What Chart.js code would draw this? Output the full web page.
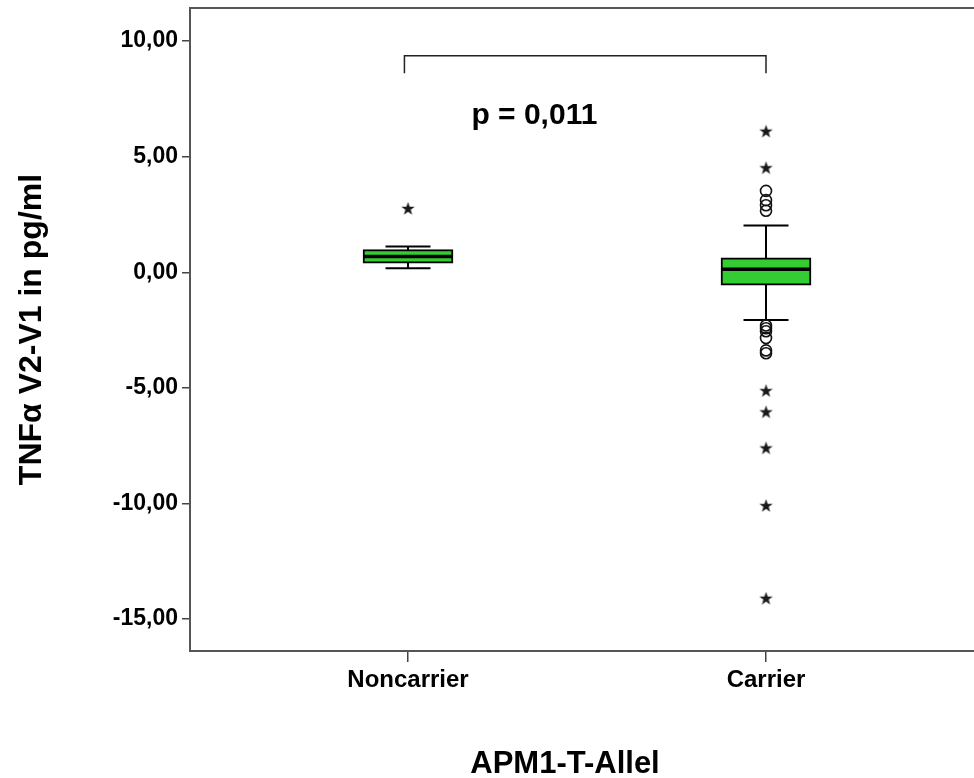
<!DOCTYPE html>
<html>
<head>
<meta charset="utf-8">
<script src="https://cdn.jsdelivr.net/npm/chart.js@4.4.0/dist/chart.umd.min.js"></script>
<style>
  html, body { margin: 0; padding: 0; background: #fff; overflow: hidden; }
  #wrap { width: 974px; height: 778px; }
  canvas { display: block; }
</style>
</head>
<body>
<div id="wrap"><canvas id="c" width="974" height="778"></canvas></div>
<script>
// ---- data ----
const categories = ['Noncarrier', 'Carrier'];
const whiskerLow  = [0.17, -2.06];
const q1          = [0.39, -0.56];
const median      = [0.68,  0.13];
const q3          = [0.98,  0.62];
const whiskerHigh = [1.12,  2.02];
// mild outliers (open circles), per category
const outliersCircle = [
  [],
  [3.52, 3.12, 2.90, 2.66, -2.30, -2.42, -2.55, -2.84, -3.38, -3.50]
];
// extreme outliers (stars), per category
const outliersStar = [
  [2.76],
  [6.10, 4.52, -5.12, -6.04, -7.60, -10.09, -14.10]
];
const yTicks = [-15, -10, -5, 0, 5, 10];
const pText = 'p = 0,011';
const xTitle = 'APM1-T-Allel';
const yTitle = 'TNFα V2-V1 in pg/ml';

const FONT = '"Liberation Sans", Arial, Helvetica, sans-serif';

// star marker image
function makeStar(size) {
  const cv = document.createElement('canvas');
  cv.width = size; cv.height = size;
  const g = cv.getContext('2d');
  const cx = size / 2, cy = size / 2 + 0.5, R = size / 2 - 0.5, r = R * 0.4;
  g.beginPath();
  for (let i = 0; i < 10; i++) {
    const a = -Math.PI / 2 + i * Math.PI / 5;
    const rr = i % 2 === 0 ? R : r;
    const px = cx + rr * Math.cos(a), py = cy + rr * Math.sin(a);
    if (i === 0) g.moveTo(px, py); else g.lineTo(px, py);
  }
  g.closePath();
  g.fillStyle = '#1a1a1a';
  g.fill();
  return cv;
}
const starImg = makeStar(15);

const boxData = categories.map((c, i) => ({ x: i + 1, y: [q1[i], q3[i]] }));
const circleData = [];
outliersCircle.forEach((arr, i) => arr.forEach(v => circleData.push({ x: i + 1, y: v })));
const starData = [];
outliersStar.forEach((arr, i) => arr.forEach(v => starData.push({ x: i + 1, y: v })));

const boxPlugin = {
  id: 'boxExtras',
  beforeDatasetsDraw(chart) {
    const { ctx, scales: { x, y } } = chart;
    ctx.save();
    ctx.strokeStyle = '#000';
    ctx.lineWidth = 2;
    categories.forEach((c, i) => {
      const cx = x.getPixelForValue(i + 1);
      const capHalf = 22.5;
      ctx.beginPath();
      ctx.moveTo(cx, y.getPixelForValue(whiskerLow[i]));
      ctx.lineTo(cx, y.getPixelForValue(whiskerHigh[i]));
      ctx.stroke();
      [whiskerLow[i], whiskerHigh[i]].forEach(v => {
        const py = y.getPixelForValue(v);
        ctx.beginPath();
        ctx.moveTo(cx - capHalf, py);
        ctx.lineTo(cx + capHalf, py);
        ctx.stroke();
      });
    });
    ctx.restore();
  },
  afterDatasetDraw(chart, args) {
    if (args.index !== 0) return;
    const { ctx, scales: { x, y } } = chart;
    ctx.save();
    ctx.strokeStyle = '#000';
    ctx.lineWidth = 3.5;
    categories.forEach((c, i) => {
      const cx = x.getPixelForValue(i + 1);
      const half = 44;
      const py = y.getPixelForValue(median[i]);
      ctx.beginPath();
      ctx.moveTo(cx - half, py);
      ctx.lineTo(cx + half, py);
      ctx.stroke();
    });
    ctx.restore();
  },
  afterDraw(chart) {
    const { ctx, chartArea, scales: { x, y } } = chart;
    ctx.save();
    // top frame line
    ctx.strokeStyle = '#555';
    ctx.lineWidth = 2;
    ctx.beginPath();
    ctx.moveTo(chartArea.left - 1, chartArea.top);
    ctx.lineTo(chartArea.right, chartArea.top);
    ctx.stroke();
    // significance bracket
    const xl = x.getPixelForValue(0.99), xr = x.getPixelForValue(2.0);
    const yt = y.getPixelForValue(9.37), yb = y.getPixelForValue(8.61);
    ctx.strokeStyle = '#222';
    ctx.lineWidth = 1.5;
    ctx.beginPath();
    ctx.moveTo(xl, yb); ctx.lineTo(xl, yt); ctx.lineTo(xr, yt); ctx.lineTo(xr, yb);
    ctx.stroke();
    // p value text
    ctx.fillStyle = '#000';
    ctx.font = 'bold 30px ' + FONT;
    ctx.textAlign = 'center';
    ctx.textBaseline = 'middle';
    ctx.fillText(pText, x.getPixelForValue(1.353), y.getPixelForValue(6.78));
    // x axis title
    ctx.font = 'bold 31px ' + FONT;
    ctx.textBaseline = 'alphabetic';
    ctx.fillText(xTitle, x.getPixelForValue(1.4385), 773);
    ctx.restore();
  }
};

new Chart(document.getElementById('c'), {
  data: {
    datasets: [
      {
        type: 'bar',
        data: boxData,
        backgroundColor: '#33cc33',
        borderColor: '#000',
        borderWidth: 2,
        borderSkipped: false,
        barThickness: 90,
        order: 3
      },
      {
        type: 'scatter',
        data: circleData,
        pointStyle: 'circle',
        pointRadius: 5.5,
        backgroundColor: 'rgba(0,0,0,0)',
        borderColor: '#111',
        borderWidth: 1.6,
        order: 2
      },
      {
        type: 'scatter',
        data: starData,
        pointStyle: starImg,
        order: 1
      }
    ]
  },
  options: {
    responsive: false,
    animation: false,
    events: [],
    layout: { autoPadding: false, padding: { top: 8, right: 0, left: 0, bottom: 0 } },
    plugins: { legend: { display: false }, tooltip: { enabled: false } },
    scales: {
      x: {
        type: 'linear',
        offset: false,
        min: 0.391,
        max: 2.581,
        afterBuildTicks: s => { s.ticks = categories.map((c, i) => ({ value: i + 1 })); },
        afterFit: s => { s.height = 127; s.paddingLeft = 0; s.paddingRight = 0; },
        ticks: {
          callback: v => categories[v - 1] || '',
          color: '#000',
          font: { family: FONT, size: 24, weight: 'bold' },
          padding: 4,
          autoSkip: false,
          maxRotation: 0
        },
        grid: { offset: false, drawOnChartArea: false, drawTicks: true, tickLength: 11, color: '#444', lineWidth: 1.5 },
        border: { display: true, color: '#555', width: 2 },
        title: { display: false }
      },
      y: {
        type: 'linear',
        min: -16.38,
        max: 11.43,
        afterBuildTicks: s => { s.ticks = yTicks.map(v => ({ value: v })); },
        afterFit: s => { s.width = 190; s.paddingTop = 0; s.paddingBottom = 0; },
        ticks: {
          callback: v => v.toFixed(2).replace('.', ','),
          color: '#000',
          font: { family: FONT, size: 23, weight: 'bold' },
          padding: 4
        },
        grid: { drawOnChartArea: false, drawTicks: true, tickLength: 8, color: '#444', lineWidth: 1.5 },
        border: { display: true, color: '#555', width: 2 },
        title: {
          display: true,
          text: yTitle,
          color: '#000',
          font: { family: FONT, size: 32, weight: 'bold', lineHeight: 1.2 },
          padding: { top: 13, bottom: 0 }
        }
      }
    }
  },
  plugins: [boxPlugin]
});
</script>
</body>
</html>
